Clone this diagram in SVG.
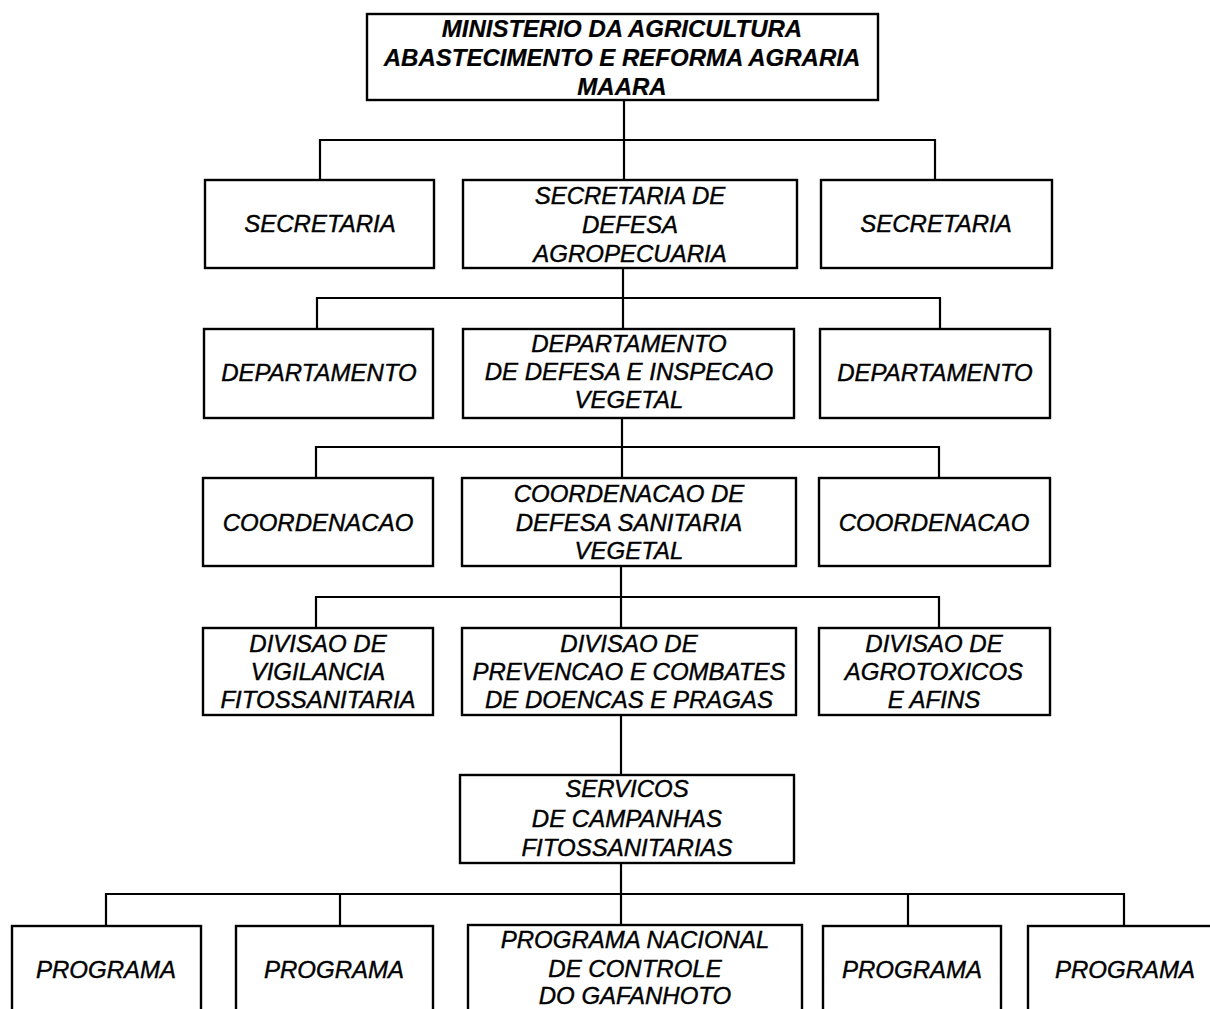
<svg xmlns="http://www.w3.org/2000/svg" width="1210" height="1009" viewBox="0 0 1210 1009">
<style>
.box{fill:#fff;stroke:#000;stroke-width:2.4}
.ln{fill:none;stroke:#000;stroke-width:2.2}
text{font-family:"Liberation Sans",Arial,sans-serif;font-style:italic;font-size:24px;fill:#000;stroke:#000;stroke-width:0.4;text-anchor:middle}
.b{font-weight:bold;stroke-width:0.2}
</style>
<rect width="1210" height="1009" fill="#fff"/>
<g id="connectors">
<path class="ln" d="M624 100V180M320 180V140H935V180"/>
<path class="ln" d="M623 268V329M317 329V298H940V329"/>
<path class="ln" d="M622 418V478M316 478V447H939V478"/>
<path class="ln" d="M621 566V628M316 628V597H939V628"/>
<path class="ln" d="M621 715V775"/>
<path class="ln" d="M621 863V926M106 926V894H1124V926M340 894V926M908 894V926"/>
</g>
<g id="maara">
<rect class="box" x="367" y="14" width="511" height="86"/>
<text class="b" x="622" y="37">MINISTERIO DA AGRICULTURA</text>
<text class="b" x="622" y="66">ABASTECIMENTO E REFORMA AGRARIA</text>
<text class="b" x="622" y="95">MAARA</text>
</g>
<g id="sec-left">
<rect class="box" x="205" y="180" width="229" height="88"/>
<text x="320" y="232">SECRETARIA</text>
</g>
<g id="sec-defesa">
<rect class="box" x="463" y="180" width="334" height="88"/>
<text x="630" y="204">SECRETARIA DE</text>
<text x="630" y="233">DEFESA</text>
<text x="630" y="262">AGROPECUARIA</text>
</g>
<g id="sec-right">
<rect class="box" x="821" y="180" width="231" height="88"/>
<text x="936" y="232">SECRETARIA</text>
</g>
<g id="dep-left">
<rect class="box" x="204" y="329" width="229" height="89"/>
<text x="319" y="381">DEPARTAMENTO</text>
</g>
<g id="dep-ddiv">
<rect class="box" x="463" y="329" width="331" height="89"/>
<text x="629" y="352">DEPARTAMENTO</text>
<text x="629" y="380">DE DEFESA E INSPECAO</text>
<text x="629" y="408">VEGETAL</text>
</g>
<g id="dep-right">
<rect class="box" x="820" y="329" width="230" height="89"/>
<text x="935" y="381">DEPARTAMENTO</text>
</g>
<g id="coord-left">
<rect class="box" x="203" y="478" width="230" height="88"/>
<text x="318" y="531">COORDENACAO</text>
</g>
<g id="coord-dsv">
<rect class="box" x="462" y="478" width="334" height="88"/>
<text x="629" y="502">COORDENACAO DE</text>
<text x="629" y="531">DEFESA SANITARIA</text>
<text x="629" y="559">VEGETAL</text>
</g>
<g id="coord-right">
<rect class="box" x="819" y="478" width="231" height="88"/>
<text x="934" y="531">COORDENACAO</text>
</g>
<g id="div-vig">
<rect class="box" x="203" y="628" width="230" height="87"/>
<text x="318" y="652">DIVISAO DE</text>
<text x="318" y="680">VIGILANCIA</text>
<text x="318" y="708">FITOSSANITARIA</text>
</g>
<g id="div-prev">
<rect class="box" x="462" y="628" width="334" height="87"/>
<text x="629" y="652">DIVISAO DE</text>
<text x="629" y="680">PREVENCAO E COMBATES</text>
<text x="629" y="708">DE DOENCAS E PRAGAS</text>
</g>
<g id="div-agro">
<rect class="box" x="819" y="628" width="231" height="87"/>
<text x="934" y="652">DIVISAO DE</text>
<text x="934" y="680">AGROTOXICOS</text>
<text x="934" y="708">E AFINS</text>
</g>
<g id="servicos">
<rect class="box" x="460" y="775" width="334" height="88"/>
<text x="627" y="797">SERVICOS</text>
<text x="627" y="827">DE CAMPANHAS</text>
<text x="627" y="856">FITOSSANITARIAS</text>
</g>
<g id="prog1">
<rect class="box" x="12" y="926" width="189" height="100"/>
<text x="106" y="978">PROGRAMA</text>
</g>
<g id="prog2">
<rect class="box" x="236" y="926" width="197" height="100"/>
<text x="334" y="978">PROGRAMA</text>
</g>
<g id="prog-gafanhoto">
<rect class="box" x="468" y="925" width="334" height="100"/>
<text x="635" y="948">PROGRAMA NACIONAL</text>
<text x="635" y="977">DE CONTROLE</text>
<text x="635" y="1004">DO GAFANHOTO</text>
</g>
<g id="prog4">
<rect class="box" x="823" y="926" width="178" height="100"/>
<text x="912" y="978">PROGRAMA</text>
</g>
<g id="prog5">
<rect class="box" x="1028" y="926" width="194" height="100"/>
<text x="1125" y="978">PROGRAMA</text>
</g>
</svg>
